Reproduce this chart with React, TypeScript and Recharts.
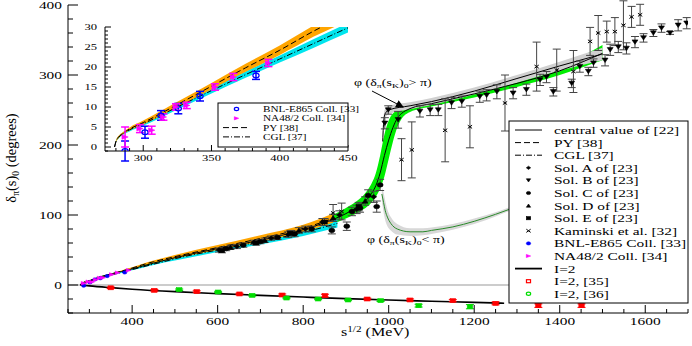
import React from 'react';
import { ComposedChart, Line, Area, Scatter, XAxis, YAxis, ErrorBar, ReferenceLine } from 'recharts';

const FONT = '"Liberation Serif", "Times New Roman", serif';
const S = 1.4; // horizontal stretch of text in the reference

// ---------- tick values ----------
const mainXTicks = [250, 300, 350, 400, 450, 500, 550, 600, 650, 700, 750, 800, 850, 900, 950, 1000, 1050, 1100, 1150, 1200, 1250, 1300, 1350, 1400, 1450, 1500, 1550, 1600, 1650, 1700];
const mainXLabels = [400, 600, 800, 1000, 1200, 1400, 1600];
const mainYTicks = [-40, -20, 0, 20, 40, 60, 80, 100, 120, 140, 160, 180, 200, 220, 240, 260, 280, 300, 320, 340, 360, 380, 400];
const mainYLabels = [0, 100, 200, 300, 400];
const insetXTicks = [280, 290, 300, 310, 320, 330, 340, 350, 360, 370, 380, 390, 400, 410, 420, 430, 440, 450];
const insetXLabels = [300, 350, 400, 450];
const insetYTicks = [-1, 0, 1, 2, 3, 4, 5, 6, 7, 8, 9, 10, 11, 12, 13, 14, 15, 16, 17, 18, 19, 20, 21, 22, 23, 24, 25, 26, 27, 28, 29, 30];
const insetYLabels = [0, 5, 10, 15, 20, 25, 30];

// ---------- bands / curves: [x, low, mid, high] ----------
const pyBand: number[][] = [
  [279, 0, 0, 0], [280, 1.2, 1.4, 1.6], [282, 2.2, 2.5, 2.8], [285, 3.1, 3.4, 3.7], [290, 4.1, 4.5, 4.9], [300, 5.6, 6.1, 6.6],
  [325, 10, 10.6, 11.3], [350, 14.4, 15.2, 16.0], [375, 18.8, 19.8, 20.8], [400, 23.0, 24.2, 25.4], [425, 27.6, 29.0, 30.4],
  [450, 31.5, 33.2, 35], [500, 38, 40.5, 43], [600, 50, 53.5, 57], [700, 62, 66.5, 71], [800, 76, 81, 86], [870, 89, 95, 102]
];
const cglBand: number[][] = [
  [279, 0, 0, 0], [280, 1.1, 1.3, 1.5], [282, 2.1, 2.4, 2.7], [285, 3.0, 3.3, 3.6], [290, 3.9, 4.3, 4.7], [300, 5.3, 5.8, 6.3],
  [325, 9.4, 10.0, 10.6], [350, 13.4, 14.1, 14.8], [375, 17.3, 18.1, 18.9], [400, 21.1, 22.0, 22.9], [425, 24.8, 25.9, 27.0],
  [450, 28.6, 29.8, 31.0], [475, 32, 33.5, 35], [500, 35, 37.5, 40], [600, 47, 50, 53], [700, 58, 62, 66], [800, 70, 75, 80], [880, 82, 88, 95]
];
const centralBand: number[][] = [
  [279, 0, 0, 0], [300, 5.7, 6, 6.3], [400, 22, 23, 24], [500, 37, 39, 41], [600, 49, 52, 55], [700, 60, 64, 68], [750, 67, 71, 75],
  [800, 74, 79, 84], [850, 83, 89, 95], [900, 95, 102, 110], [930, 104, 113, 122], [950, 112, 123, 135], [960, 118, 131, 145],
  [970, 126, 142, 160], [980, 138, 160, 185], [990, 155, 185, 215], [1000, 180, 207, 235], [1010, 205, 225, 245], [1020, 225, 238, 250],
  [1030, 237, 245, 253], [1050, 247, 252, 257], [1100, 255, 259, 264], [1200, 268, 273, 278], [1300, 283, 288, 294],
  [1400, 300, 306, 312], [1500, 321, 331, 343]
];
const upperBranch: number[][] = [
  [986, 200, 205, 212], [989, 232, 238, 246], [993, 240, 246, 253], [1000, 244, 250, 256], [1050, 251, 256, 261], [1100, 257, 262, 267],
  [1200, 272, 277, 282], [1300, 289, 295, 300], [1400, 306, 313, 319], [1500, 321, 330, 339]
];
const lowerBranch: number[][] = [
  [984, 120, 130, 140], [988, 104, 118, 132], [992, 92, 106, 120], [997, 84, 97, 108], [1005, 78, 88, 97], [1020, 72, 80, 87],
  [1050, 70, 76, 81], [1080, 71, 76, 81], [1100, 73, 78, 82], [1150, 79, 83, 87], [1200, 87, 91, 95], [1250, 98, 101, 104],
  [1300, 110, 112, 115], [1400, 132, 134, 136], [1500, 153, 155, 157]
];
const i2Line: number[][] = [
  [279, 0], [300, -1.3], [350, -3.8], [400, -6], [500, -9.5], [600, -12.3], [700, -14.8], [800, -17.2], [900, -19.5],
  [1000, -21.5], [1100, -23.2], [1200, -24.8], [1270, -26]
];

// ---------- data points: [x, y, err] ----------
const solA: number[][] = [[603, 50, 3], [645, 55, 3], [685, 61, 3], [725, 67, 3], [765, 72, 4], [805, 80, 4], [845, 90, 5], [885, 100, 6], [925, 108, 6], [965, 126, 8]];
const solB: number[][] = [
  [991, 231, 8], [999, 250, 6], [1022, 236, 12], [1073, 248, 8], [1097, 250, 8], [1116, 250, 8], [1147, 260, 8], [1171, 262, 8],
  [1213, 269, 8], [1229, 271, 8], [1253, 276, 10], [1291, 274, 8], [1322, 279, 8], [1354, 293, 8], [1369, 297, 8], [1385, 276, 6],
  [1428, 288, 6], [1447, 312, 8], [1467, 305, 6], [1479, 317, 6], [1506, 321, 8], [1518, 336, 8], [1537, 340, 8], [1556, 338, 8],
  [1576, 347, 8], [1596, 353, 6], [1619, 360, 5], [1638, 367, 6], [1658, 360, 2], [1677, 371, 8], [1697, 374, 8]
];
const solC: number[][] = [[620, 52, 3], [660, 57, 3], [700, 62, 3], [740, 68, 3], [780, 73, 4], [820, 80, 4], [867, 78, 5], [902, 84, 6], [914, 105, 6], [933, 110, 6], [952, 128, 8], [972, 112, 8], [980, 143, 8]];
const solD: number[][] = [[630, 54, 3], [710, 64, 3], [790, 78, 4], [870, 96, 5], [945, 120, 6]];
const solE: number[][] = [[610, 49, 3], [690, 60, 3], [770, 74, 4], [850, 90, 5], [930, 112, 6]];
const kaminski: number[][] = [
  [870, 103, 12], [890, 105, 12], [1030, 179, 30], [1054, 193, 40], [1132, 221, 45], [1190, 226, 30], [1272, 260, 40], [1346, 312, 35],
  [1393, 307, 30], [1432, 305, 30], [1471, 348, 20], [1490, 360, 25], [1510, 362, 15], [1529, 362, 20], [1549, 371, 35],
  [1568, 383, 15], [1588, 386, 15]
];
const bnl: number[][] = [[286.7, -1.0, 2.5], [301.3, 3.7, 1.5], [313, 7.9, 1.2], [325.7, 9.6, 1.3], [341.6, 12.7, 1.2], [382.6, 17.9, 1.0]];
const na48: number[][] = [[286.7, 2.5, 2.5], [297.6, 4.6, 1.0], [306.2, 4.2, 1.0], [314.8, 7.5, 0.8], [324, 10, 0.8], [331.9, 10.4, 0.8], [352.6, 15, 0.8], [366, 17.5, 0.9], [391.7, 21, 0.9]];
const i2Ref35: number[][] = [[350, -4, 1], [452, -7.6, 1], [551, -9.5, 1.2], [651, -12.8, 1], [751, -14.3, 1.5], [851, -15.2, 2], [950, -20, 1.2], [1050, -21.4, 1.5], [1150, -22.4, 1.5], [1250, -26.2, 2], [1350, -29.5, 2.5], [1451, -29.5, 2.5]];
const i2Ref36: number[][] = [[510, -6.7, 1], [601, -10, 1], [681, -14.8, 1], [761, -18.6, 1], [835, -20, 1], [905, -21.4, 1], [981, -22.4, 1.2], [1070, -29.5, 2], [1190, -31, 3]];

// ---------- helpers ----------
const bandData = (rows: number[][], maxX = Infinity) =>
  rows.filter((r) => r[0] <= maxX).map((r) => ({ x: r[0], r: [r[1], r[3]], m: r[2] }));
const ptData = (rows: number[][]) => rows.map((r) => ({ x: r[0], y: r[1], e: r[2] }));
const lineData = (rows: number[][]) => rows.map((r) => ({ x: r[0], m: r[1] }));

const shape = (kind: string, color: string, r: number, open = false) => (p: any) => {
  const { cx, cy } = p;
  if (cx == null || cy == null || isNaN(cx) || isNaN(cy)) return <g />;
  const rx = r * 1.35;
  const fill = open ? 'none' : color;
  const sw = open ? 1.2 : 0.6;
  switch (kind) {
    case 'circle':
      return <ellipse cx={cx} cy={cy} rx={rx} ry={r} fill={fill} stroke={color} strokeWidth={sw} />;
    case 'square':
      return <rect x={cx - rx} y={cy - r} width={2 * rx} height={2 * r} fill={fill} stroke={color} strokeWidth={sw} />;
    case 'up':
      return <polygon points={`${cx - rx},${cy + r} ${cx + rx},${cy + r} ${cx},${cy - r}`} fill={fill} stroke={color} strokeWidth={sw} />;
    case 'down':
      return <polygon points={`${cx - rx},${cy - r} ${cx + rx},${cy - r} ${cx},${cy + r}`} fill={fill} stroke={color} strokeWidth={sw} />;
    case 'right':
      return <polygon points={`${cx - rx},${cy - r} ${cx - rx},${cy + r} ${cx + rx},${cy}`} fill={fill} stroke={color} strokeWidth={sw} />;
    case 'diamond':
      return <polygon points={`${cx - rx},${cy} ${cx},${cy - r} ${cx + rx},${cy} ${cx},${cy + r}`} fill={fill} stroke={color} strokeWidth={sw} />;
    case 'x':
      return (
        <g stroke={color} strokeWidth={1}>
          <line x1={cx - rx} y1={cy - r} x2={cx + rx} y2={cy + r} />
          <line x1={cx - rx} y1={cy + r} x2={cx + rx} y2={cy - r} />
        </g>
      );
    default:
      return <circle cx={cx} cy={cy} r={r} fill={fill} />;
  }
};

const txt = (x: number, y: number, size: number, anchor: string, children: any, key?: any) => (
  <text key={key} transform={`translate(${x},${y}) scale(${S},1)`} textAnchor={anchor} fontSize={size} fontFamily={FONT} fill="#000">
    {children}
  </text>
);

// ---------- tick renderers ----------
const MainXTick = (top: boolean) => (p: any) => {
  const { x, y, payload } = p;
  const v = payload.value;
  const major = mainXLabels.includes(v);
  const len = major ? 8 : 4;
  const d = top ? 1 : -1;
  return (
    <g>
      <line x1={x} y1={y} x2={x} y2={y + d * len} stroke="#000" strokeWidth={1} />
      {!top && major ? txt(x, y + 11.5, 11, 'middle', v) : null}
    </g>
  );
};
const MainYTick = (right: boolean) => (p: any) => {
  const { x, y, payload } = p;
  const v = payload.value;
  const major = v % 100 === 0;
  const len = major ? 10 : 5;
  const d = right ? -1 : 1;
  return (
    <g>
      <line x1={x} y1={y} x2={x + d * len} y2={y} stroke="#000" strokeWidth={1} />
      {!right && mainYLabels.includes(v) ? txt(x - 6, y + 4, 11, 'end', v) : null}
    </g>
  );
};
const InsetXTick = (top: boolean) => (p: any) => {
  const { x, y, payload } = p;
  const v = payload.value;
  const major = v % 50 === 0;
  const len = major ? 6 : 3;
  const d = top ? 1 : -1;
  return (
    <g>
      <line x1={x} y1={y} x2={x} y2={y + d * len} stroke="#000" strokeWidth={1} />
      {!top && insetXLabels.includes(v) ? txt(x, y + 10, 9, 'middle', v) : null}
    </g>
  );
};
const InsetYTick = (right: boolean) => (p: any) => {
  const { x, y, payload } = p;
  const v = payload.value;
  const major = v % 5 === 0;
  const len = major ? 6 : 3;
  const d = right ? -1 : 1;
  return (
    <g>
      <line x1={x} y1={y} x2={x + d * len} y2={y} stroke="#000" strokeWidth={1} />
      {!right && insetYLabels.includes(v) ? txt(x - 8, y + 3, 9, 'end', v) : null}
    </g>
  );
};

const axisCommon = { tickSize: 0, tickMargin: 0, tickLine: false, interval: 0 as const, allowDataOverflow: true };

const ERR = { dataKey: 'e', direction: 'y' as const, width: 4, strokeWidth: 1, stroke: '#444' };

function MainChart() {
  return (
    <ComposedChart width={692} height={346} margin={{ top: 5, right: 4, bottom: 8, left: 0 }}>
      <XAxis xAxisId="b" dataKey="x" type="number" domain={[250, 1700]} ticks={mainXTicks} height={25} tick={MainXTick(false)} axisLine={{ stroke: '#000' }} {...axisCommon} />
      <XAxis xAxisId="t" orientation="top" dataKey="x" type="number" domain={[250, 1700]} ticks={mainXTicks} height={0} tick={MainXTick(true)} axisLine={{ stroke: '#000' }} {...axisCommon} />
      <YAxis yAxisId="l" type="number" domain={[-40, 400]} ticks={mainYTicks} width={68} tick={MainYTick(false)} axisLine={{ stroke: '#000' }} {...axisCommon} />
      <YAxis yAxisId="r" orientation="right" type="number" domain={[-40, 400]} ticks={mainYTicks} width={0} tick={MainYTick(true)} axisLine={{ stroke: '#000' }} {...axisCommon} />

      <ReferenceLine xAxisId="b" yAxisId="l" y={0} stroke="#999" strokeWidth={1} />

      <Area xAxisId="b" yAxisId="l" data={bandData(centralBand)} dataKey="r" type="monotone" stroke="none" fill="#00ee00" fillOpacity={1} isAnimationActive={false} />
      <Area xAxisId="b" yAxisId="l" data={bandData(cglBand)} dataKey="r" type="monotone" stroke="none" fill="#00e5ee" fillOpacity={1} isAnimationActive={false} />
      <Area xAxisId="b" yAxisId="l" data={bandData(pyBand)} dataKey="r" type="monotone" stroke="none" fill="#ffa500" fillOpacity={1} isAnimationActive={false} />
      <Area xAxisId="b" yAxisId="l" data={bandData(upperBranch)} dataKey="r" type="monotone" stroke="none" fill="#d0d0d0" fillOpacity={1} isAnimationActive={false} />
      <Area xAxisId="b" yAxisId="l" data={bandData(lowerBranch)} dataKey="r" type="monotone" stroke="none" fill="#d8d8d8" fillOpacity={1} isAnimationActive={false} />

      <Line xAxisId="b" yAxisId="l" data={bandData(pyBand)} dataKey="m" type="monotone" dot={false} stroke="#000" strokeWidth={1} strokeDasharray="6 3" isAnimationActive={false} />
      <Line xAxisId="b" yAxisId="l" data={bandData(cglBand)} dataKey="m" type="monotone" dot={false} stroke="#000" strokeWidth={1} strokeDasharray="6 2 1 2" isAnimationActive={false} />
      <Line xAxisId="b" yAxisId="l" data={bandData(centralBand)} dataKey="m" type="monotone" dot={false} stroke="#000" strokeWidth={1} isAnimationActive={false} />
      <Line xAxisId="b" yAxisId="l" data={bandData(upperBranch)} dataKey="m" type="monotone" dot={false} stroke="#000" strokeWidth={1} isAnimationActive={false} />
      <Line xAxisId="b" yAxisId="l" data={bandData(lowerBranch)} dataKey="m" type="monotone" dot={false} stroke="#2a8a2a" strokeWidth={1} isAnimationActive={false} />
      <Line xAxisId="b" yAxisId="l" data={lineData(i2Line)} dataKey="m" type="monotone" dot={false} stroke="#000" strokeWidth={1.6} isAnimationActive={false} />

      <Scatter xAxisId="b" yAxisId="l" data={ptData(kaminski)} dataKey="y" shape={shape('x', '#000', 1.6)} isAnimationActive={false}><ErrorBar {...ERR} /></Scatter>
      <Scatter xAxisId="b" yAxisId="l" data={ptData(solA)} dataKey="y" shape={shape('diamond', '#000', 2.2)} isAnimationActive={false}><ErrorBar {...ERR} /></Scatter>
      <Scatter xAxisId="b" yAxisId="l" data={ptData(solB)} dataKey="y" shape={shape('down', '#000', 2.2)} isAnimationActive={false}><ErrorBar {...ERR} /></Scatter>
      <Scatter xAxisId="b" yAxisId="l" data={ptData(solC)} dataKey="y" shape={shape('circle', '#000', 2.2)} isAnimationActive={false}><ErrorBar {...ERR} /></Scatter>
      <Scatter xAxisId="b" yAxisId="l" data={ptData(solD)} dataKey="y" shape={shape('up', '#000', 2.2)} isAnimationActive={false}><ErrorBar {...ERR} /></Scatter>
      <Scatter xAxisId="b" yAxisId="l" data={ptData(solE)} dataKey="y" shape={shape('square', '#000', 2)} isAnimationActive={false}><ErrorBar {...ERR} /></Scatter>
      <Scatter xAxisId="b" yAxisId="l" data={ptData(bnl)} dataKey="y" shape={shape('circle', '#0000ff', 1.6)} isAnimationActive={false} />
      <Scatter xAxisId="b" yAxisId="l" data={ptData(na48)} dataKey="y" shape={shape('right', '#ff00ff', 1.8)} isAnimationActive={false} />
      <Scatter xAxisId="b" yAxisId="l" data={ptData(i2Ref35)} dataKey="y" shape={shape('square', '#ff0000', 2)} isAnimationActive={false}><ErrorBar {...ERR} stroke="#ff0000" /></Scatter>
      <Scatter xAxisId="b" yAxisId="l" data={ptData(i2Ref36)} dataKey="y" shape={shape('square', '#00dd00', 2)} isAnimationActive={false}><ErrorBar {...ERR} stroke="#00cc00" /></Scatter>
    </ComposedChart>
  );
}

function InsetChart() {
  return (
    <ComposedChart width={300} height={152} margin={{ top: 7, right: 12, bottom: 0, left: 0 }}>
      <XAxis xAxisId="b" dataKey="x" type="number" domain={[272, 450]} ticks={insetXTicks} height={21} tick={InsetXTick(false)} axisLine={{ stroke: '#000' }} {...axisCommon} />
      <XAxis xAxisId="t" orientation="top" dataKey="x" type="number" domain={[272, 450]} ticks={insetXTicks} height={0} tick={InsetXTick(true)} axisLine={{ stroke: '#000' }} {...axisCommon} />
      <YAxis yAxisId="l" type="number" domain={[-1, 30]} ticks={insetYTicks} width={45} tick={InsetYTick(false)} axisLine={{ stroke: '#000' }} {...axisCommon} />
      <YAxis yAxisId="r" orientation="right" type="number" domain={[-1, 30]} ticks={insetYTicks} width={0} tick={InsetYTick(true)} axisLine={{ stroke: '#000' }} {...axisCommon} />

      <Area xAxisId="b" yAxisId="l" data={bandData(cglBand, 480)} dataKey="r" type="monotone" stroke="none" fill="#00e5ee" fillOpacity={1} isAnimationActive={false} />
      <Area xAxisId="b" yAxisId="l" data={bandData(pyBand, 460)} dataKey="r" type="monotone" stroke="none" fill="#ffa500" fillOpacity={1} isAnimationActive={false} />
      <Line xAxisId="b" yAxisId="l" data={bandData(pyBand, 460)} dataKey="m" type="monotone" dot={false} stroke="#000" strokeWidth={1} strokeDasharray="6 3" isAnimationActive={false} />
      <Line xAxisId="b" yAxisId="l" data={bandData(cglBand, 480)} dataKey="m" type="monotone" dot={false} stroke="#000" strokeWidth={1} strokeDasharray="6 2 1 2" isAnimationActive={false} />

      <Scatter xAxisId="b" yAxisId="l" data={ptData(bnl)} dataKey="y" shape={shape('circle', '#0000ff', 2.3, true)} isAnimationActive={false}><ErrorBar {...ERR} stroke="#0000ff" strokeWidth={1.5} /></Scatter>
      <Scatter xAxisId="b" yAxisId="l" data={ptData(na48)} dataKey="y" shape={shape('right', '#ff00ff', 2.3)} isAnimationActive={false}><ErrorBar {...ERR} stroke="#ff00ff" strokeWidth={1.5} /></Scatter>
    </ComposedChart>
  );
}

const legendMain: { label: string; kind: string; color: string }[] = [
  { label: 'central value of [22]', kind: 'line', color: '#000' },
  { label: 'PY [38]', kind: 'dash', color: '#000' },
  { label: 'CGL [37]', kind: 'dashdot', color: '#000' },
  { label: 'Sol. A of [23]', kind: 'diamond', color: '#000' },
  { label: 'Sol. B of [23]', kind: 'down', color: '#000' },
  { label: 'Sol. C of [23]', kind: 'circle', color: '#000' },
  { label: 'Sol. D of [23]', kind: 'up', color: '#000' },
  { label: 'Sol. E of [23]', kind: 'square', color: '#000' },
  { label: 'Kaminski et al. [32]', kind: 'x', color: '#000' },
  { label: 'BNL-E865 Coll. [33]', kind: 'circle', color: '#0000ff' },
  { label: 'NA48/2 Coll. [34]', kind: 'right', color: '#ff00ff' },
  { label: 'I=2', kind: 'thick', color: '#000' },
  { label: 'I=2, [35]', kind: 'osquare', color: '#ff0000' },
  { label: 'I=2, [36]', kind: 'ocircle', color: '#00dd00' },
];
const legendInset: { label: string; kind: string; color: string }[] = [
  { label: 'BNL-E865 Coll. [33]', kind: 'ocircle', color: '#0000ff' },
  { label: 'NA48/2 Coll. [34]', kind: 'right', color: '#ff00ff' },
  { label: 'PY [38]', kind: 'dash', color: '#000' },
  { label: 'CGL [37]', kind: 'dashdot', color: '#000' },
];

const legendIcon = (kind: string, color: string, x1: number, x2: number, y: number) => {
  const cx = (x1 + x2) / 2;
  switch (kind) {
    case 'line': return <line x1={x1} y1={y} x2={x2} y2={y} stroke={color} strokeWidth={1} />;
    case 'thick': return <line x1={x1} y1={y} x2={x2} y2={y} stroke={color} strokeWidth={1.8} />;
    case 'dash': return <line x1={x1} y1={y} x2={x2} y2={y} stroke={color} strokeWidth={1} strokeDasharray="6 3" />;
    case 'dashdot': return <line x1={x1} y1={y} x2={x2} y2={y} stroke={color} strokeWidth={1} strokeDasharray="6 2 1 2" />;
    case 'ocircle': return shape('circle', color, 1.6, true)({ cx, cy: y });
    case 'osquare': return shape('square', color, 1.5, true)({ cx, cy: y });
    default: return shape(kind, color, 1.6)({ cx, cy: y });
  }
};

function Overlay() {
  const mainRows = legendMain.map((it, i) => {
    const cy = 130 + i * 12.6;
    return (
      <g key={i}>
        {legendIcon(it.kind, it.color, 515, 542, cy)}
        {txt(554, cy + 4, 11, 'start', it.label)}
      </g>
    );
  });
  const insetRows = legendInset.map((it, i) => {
    const cy = 109 + i * 9.3;
    return (
      <g key={i}>
        {legendIcon(it.kind, it.color, 223, 250, cy)}
        {txt(263, cy + 3, 8, 'start', it.label)}
      </g>
    );
  });
  return (
    <svg width={692} height={346} style={{ position: 'absolute', left: 0, top: 0, pointerEvents: 'none' }}>
      <defs>
        <marker id="arr" markerWidth="8" markerHeight="8" refX="7" refY="4" orient="auto">
          <path d="M0,0 L8,4 L0,8 z" fill="#000" />
        </marker>
      </defs>
      {/* main legend */}
      <rect x={509} y={121} width={179} height={182} fill="#fff" stroke="#000" strokeWidth={1} />
      {mainRows}
      {/* inset legend */}
      <rect x={218} y={103} width={130} height={44} fill="#fff" stroke="#000" strokeWidth={1} />
      {insetRows}
      {/* axis titles */}
      {txt(341, 336, 11.5, 'start', <>s<tspan dy={-4} fontSize={8}>1/2</tspan><tspan dy={4}> (MeV)</tspan></>)}
      <text transform="translate(16,158) rotate(-90) scale(1,1)" textAnchor="middle" fontSize={14.5} fontFamily={FONT} fill="#000">
        δ<tspan dy={3} fontSize={9.5}>π</tspan><tspan dy={-3}>(s)</tspan><tspan dy={3} fontSize={9.5}>0</tspan><tspan dy={-3}> (degrees)</tspan>
      </text>
      {/* annotations */}
      {txt(354, 86, 10, 'start', <>φ (δ<tspan dy={2} fontSize={7}>π</tspan><tspan dy={-2}>(s</tspan><tspan dy={2} fontSize={7}>K</tspan><tspan dy={-2}>)</tspan><tspan dy={2} fontSize={7}>0</tspan><tspan dy={-2}>&gt; π)</tspan></>)}
      <line x1={372} y1={91} x2={403} y2={107} stroke="#000" strokeWidth={1} markerEnd="url(#arr)" />
      {txt(367, 243, 10, 'start', <>φ (δ<tspan dy={2} fontSize={7}>π</tspan><tspan dy={-2}>(s</tspan><tspan dy={2} fontSize={7}>K</tspan><tspan dy={-2}>)</tspan><tspan dy={2} fontSize={7}>0</tspan><tspan dy={-2}>&lt; π)</tspan></>)}
    </svg>
  );
}

export default function App() {
  return (
    <div style={{ position: 'absolute', left: 0, top: 0, width: 692, height: 346, background: '#fff', overflow: 'hidden' }}>
      <div style={{ position: 'absolute', left: 0, top: 0 }}>
        <MainChart />
      </div>
      <div style={{ position: 'absolute', left: 60, top: 20, width: 300, height: 152 }}>
        <InsetChart />
      </div>
      <Overlay />
    </div>
  );
}
